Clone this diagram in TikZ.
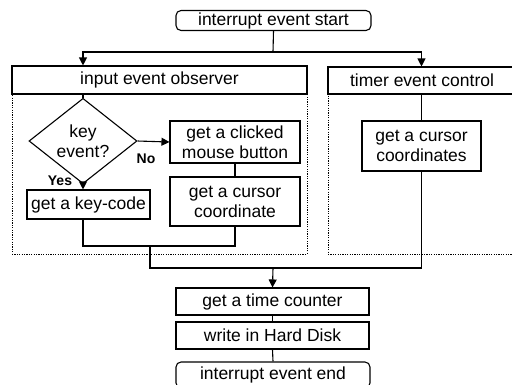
\documentclass[tikz,border=0pt]{standalone}
\usepackage{fontspec}
\setmainfont{Liberation Sans}
\usetikzlibrary{shapes.geometric,arrows.meta}
\begin{document}
\begin{tikzpicture}[x=1pt,y=-1pt,
  every node/.style={font=\fontsize{17.5}{20}\selectfont, inner sep=0pt, align=center},
  term/.style={draw, line width=1.1pt, rounded corners=5pt},
  proc/.style={draw, line width=1.1pt},
  head/.style={draw, line width=1.1pt},
  grp/.style={draw, line width=0.9pt, dash pattern=on 1.2pt off 1.2pt},
  dec/.style={draw, line width=1.1pt, diamond, minimum width=108pt, minimum height=66pt},
  line/.style={line width=1.1pt},
  arr/.style={line width=1.1pt, -{Triangle[length=8pt,width=8pt]}},
  lbl/.style={font=\fontsize{14}{15}\bfseries\selectfont}
]
\useasboundingbox (0,0) rectangle (512,384);
% groups
\node[grp, minimum width=295pt, minimum height=160pt] (g1) at (159.5,174) {};
\node[grp, minimum width=200pt, minimum height=160pt] (g2) at (428,174) {};
% nodes
\node[term, minimum width=195pt, minimum height=20pt] (start) at (273.5,20.5) {interrupt event start};
\node[head, minimum width=295pt, minimum height=28pt, fill=white] (h1) at (159.5,80) {input event observer};
\node[head, minimum width=200pt, minimum height=27pt, fill=white] (h2) at (428,80.5) {\hspace*{-12pt}timer event control};
\node[dec] (key) at (83,141) {key\\event?};
\node[proc, minimum width=130pt, minimum height=42pt] (click) at (235,142) {get a clicked\\mouse button};
\node[proc, minimum width=123pt, minimum height=29pt] (kc) at (88.5,204.5) {get a key-code};
\node[proc, minimum width=130pt, minimum height=49pt] (cur) at (235,201.5) {get a cursor\\coordinate};
\node[proc, minimum width=119pt, minimum height=50pt] (tcur) at (421.5,146) {get a cursor\\coordinates};
\node[proc, minimum width=193pt, minimum height=27pt] (time) at (272.5,301.5) {get a time counter};
\node[proc, minimum width=193pt, minimum height=27pt] (disk) at (272.5,335.5) {write in Hard Disk};
\node[term, minimum width=194pt, minimum height=26pt] (end) at (273,375) {interrupt event end};
\node[lbl] (no) at (146,159) {No};
\node[lbl] (yes) at (60,181) {Yes};
% coordinates
\coordinate (sp) at (273,52);
\coordinate (mj) at (150,246);
\coordinate (bj) at (273,268);
% connectors
\draw[line] (start.south) -- (sp);
\draw[arr] (sp) -| (h1.north -| key.north);
\draw[arr] (sp) -| (h2.north -| tcur.north);
\draw[line] (h1.south -| key.north) -- (key.north);
\draw[arr] (key.east) -- (click.west);
\draw[arr] (key.south) -- (kc.north -| key.south);
\draw[line] (click.south) -- (cur.north);
\draw[line] (kc.south -| key.south) |- (mj) -| (cur.south);
\draw[line] (h2.south -| tcur.north) -- (tcur.north);
\draw[line] (mj) |- (bj) -| (tcur.south);
\draw[arr] (bj) -- (time.north);
\draw[line] (time.south) -- (disk.north);
\draw[line] (disk.south) -- (end.north);
\end{tikzpicture}
\end{document}
